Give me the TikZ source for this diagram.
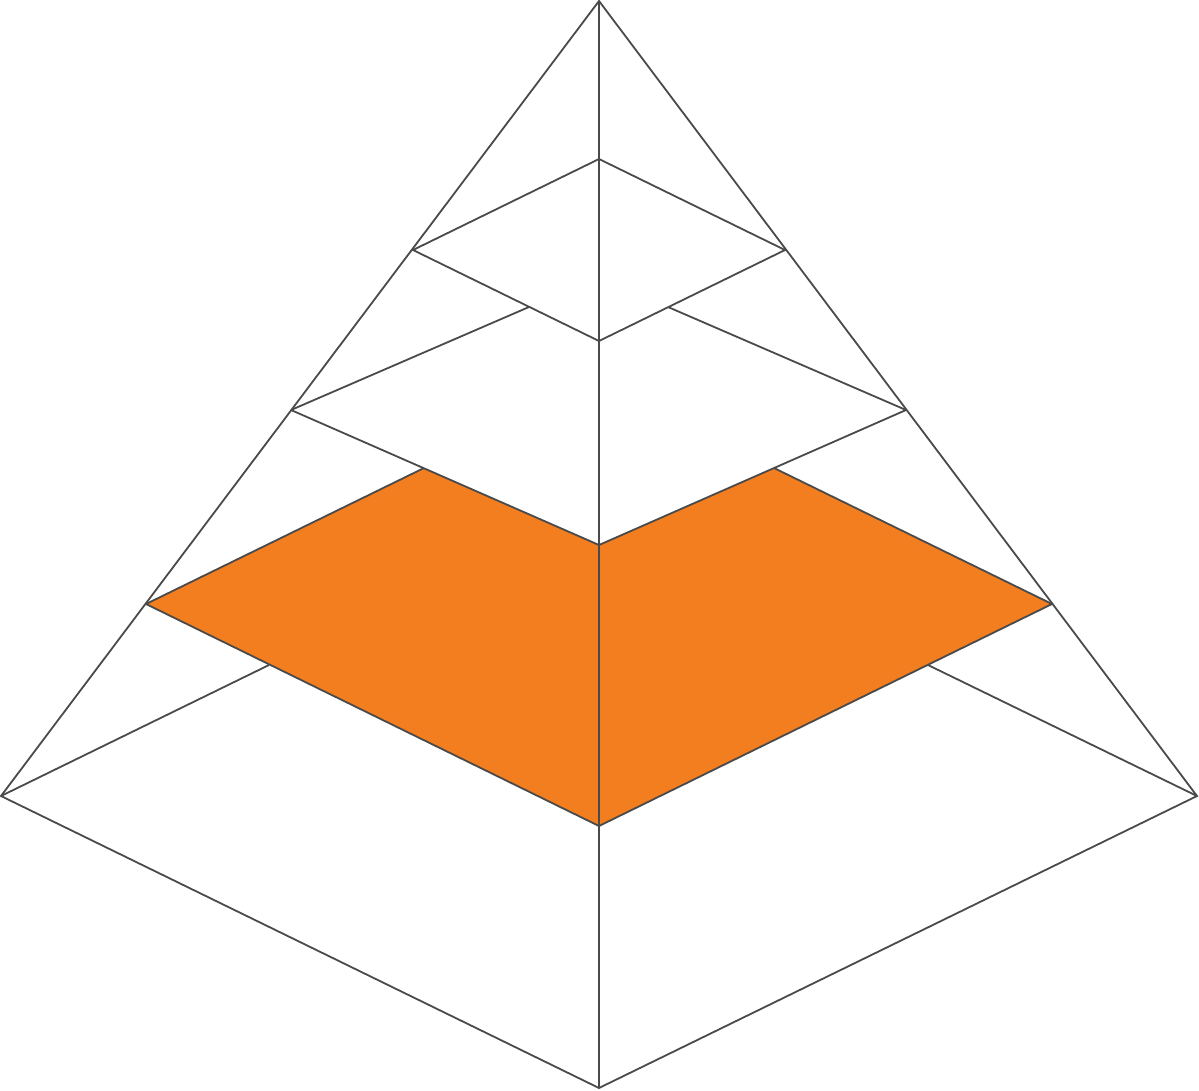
\documentclass[tikz,border=0pt]{standalone}
\begin{document}
\begin{tikzpicture}[x=1pt,y=-1pt,
  edge/.style={draw=linegray,line width=1.8pt,line join=miter},
  band/.style={fill=bandorange}]
\definecolor{linegray}{HTML}{4A4A4A}
\definecolor{bandorange}{HTML}{F37E20}
\useasboundingbox (0,0) rectangle (1199,1090);
% named points
\coordinate (apex) at (599,1);
\coordinate (L) at (1,796);
\coordinate (R) at (1197,796);
\coordinate (B) at (599,1088);
\coordinate (a1) at (413,250);
\coordinate (a2) at (599,159);
\coordinate (a3) at (785,250);
\coordinate (a4) at (599,341);
\coordinate (b1) at (291,410);
\coordinate (b2) at (529,307);
\coordinate (b3) at (668,307);
\coordinate (b4) at (906,410);
\coordinate (b5) at (599,545);
\coordinate (c1) at (146,604);
\coordinate (c2) at (424,468);
\coordinate (c3) at (774,468);
\coordinate (c4) at (1052,604);
\coordinate (c5) at (599,826);
\coordinate (d1) at (269,665);
\coordinate (d2) at (928,665);
% orange band
\path[band] (c1) -- (c2) -- (b5) -- (c3) -- (c4) -- (c5) -- cycle;
% outline
\draw[edge] (L) -- (apex) -- (R) -- (B) -- cycle;
\draw[edge] (apex) -- (B);
% level 1
\draw[edge] (a1) -- (a2) -- (a3) -- (a4) -- cycle;
% level 2
\draw[edge] (b1) -- (b2);
\draw[edge] (b3) -- (b4);
\draw[edge] (b1) -- (b5) -- (b4);
% level 3
\draw[edge] (c1) -- (c2);
\draw[edge] (c3) -- (c4);
\draw[edge] (c1) -- (c5) -- (c4);
% level 4
\draw[edge] (L) -- (d1);
\draw[edge] (d2) -- (R);
\end{tikzpicture}
\end{document}
